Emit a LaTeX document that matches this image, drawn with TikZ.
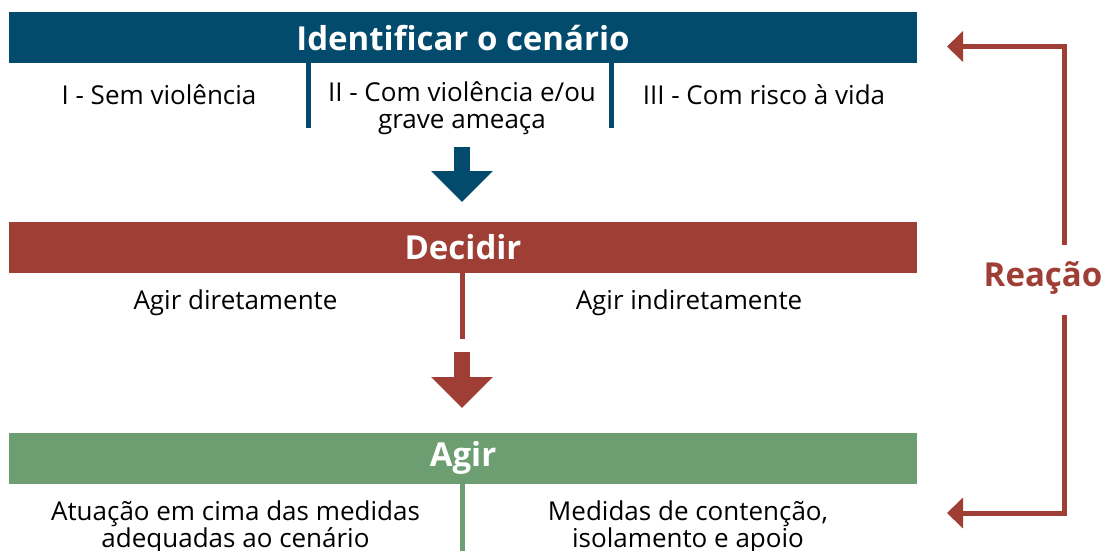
\documentclass[tikz,border=0pt]{standalone}
\usepackage{fontspec}
\setmainfont{Open Sans}
\usetikzlibrary{arrows.meta}

\definecolor{scenblue}{HTML}{034B6C}
\definecolor{decred}{HTML}{9E3E34}
\definecolor{actgreen}{HTML}{6C9E72}

\tikzset{
  band/.style={rectangle,minimum width=908pt,minimum height=51pt,inner sep=0pt,
    text=white,font=\fontsize{33}{38}\selectfont\bfseries},
  itemtext/.style={align=center,inner sep=0pt,font=\fontsize{26}{27}\selectfont},
  divider/.style={line width=5pt},
  bigarrow/.style={line width=16pt,-{Triangle[length=31pt,width=60pt]}},
  reacline/.style={decred,line width=5pt,line join=miter,-{Triangle[length=16pt,width=30pt]}}
}

\begin{document}
\begin{tikzpicture}[x=1pt,y=-1pt]
\path[use as bounding box] (0,0) rectangle (1105,551);
\clip (0,0) rectangle (1105,551);

% Identificar
\node[band,fill=scenblue] (ident) at (463,38) {Identificar o cenário};
\node[itemtext] (sc1) at (159,95) {I - Sem violência};
\node[itemtext] (sc2) at (462,108.5) {II - Com violência e/ou\\grave ameaça};
\node[itemtext] (sc3) at (764,95) {III - Com risco à vida};
\draw[divider,scenblue] (308.5,63) -- (308.5,128);
\draw[divider,scenblue] (611.5,63) -- (611.5,128);

\coordinate (a1s) at (462,147);
\coordinate (a1e) at (462,202);
\draw[bigarrow,scenblue] (a1s) -- (a1e);

% Decidir
\node[band,fill=decred] (decide) at (463,247) {Decidir};
\node[itemtext] (dc1) at (235.5,303) {Agir diretamente};
\node[itemtext] (dc2) at (689,303) {Agir indiretamente};
\draw[divider,decred] (462.5,273) -- (462.5,339);

\coordinate (a2s) at (462,352);
\coordinate (a2e) at (462,408);
\draw[bigarrow,decred] (a2s) -- (a2e);

% Agir
\node[band,fill=actgreen] (act) at (463,458) {Agir};
\node[itemtext] (ac1) at (235.5,527.5) {Atuação em cima das medidas\\adequadas ao cenário};
\node[itemtext] (ac2) at (688,527.5) {Medidas de contenção,\\isolamento e apoio};
\draw[divider,actgreen] (462.5,484) -- (462.5,551);

% Reacao
\node[font=\fontsize{33}{38}\selectfont\bfseries,text=decred,inner sep=0pt] (reac) at (1043,278) {Reação};
\coordinate (r1) at (1064.5,245);
\coordinate (r2) at (1064.5,315);
\coordinate (t1) at (947,46.5);
\coordinate (t2) at (947,513);
\draw[reacline] (r1) |- (t1);
\draw[reacline] (r2) |- (t2);
\end{tikzpicture}
\end{document}
